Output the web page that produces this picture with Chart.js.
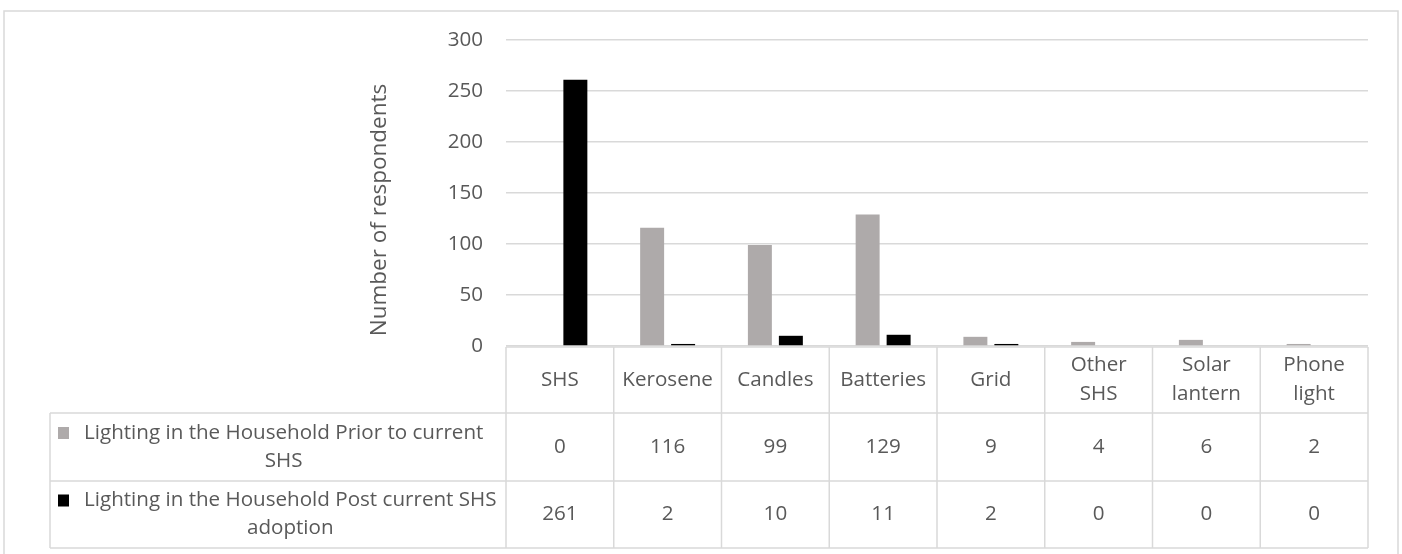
<!DOCTYPE html>
<html>
<head>
<meta charset="utf-8">
<script src="https://cdn.jsdelivr.net/npm/chart.js@4"></script>
<style>
  html, body { margin: 0; padding: 0; background: #ffffff; }
  #wrap { width: 1402px; height: 554px; position: relative; }
</style>
</head>
<body>
<div id="wrap"><canvas id="chart" width="1402" height="554"></canvas></div>
<script>
// Lighting sources (table header / category axis)
const categories = [['SHS'], ['Kerosene'], ['Candles'], ['Batteries'], ['Grid'], ['Other', 'SHS'], ['Solar', 'lantern'], ['Phone', 'light']];
// Respondent counts per lighting source
const priorValues = [0, 116, 99, 129, 9, 4, 6, 2];
const postValues = [261, 2, 10, 11, 2, 0, 0, 0];
const seriesNames = ['Lighting in the Household Prior to current SHS', 'Lighting in the Household Post current SHS adoption'];
const yTicks = [0, 50, 100, 150, 200, 250, 300];
const yTitle = 'Number of respondents';

const FONT = '"Open Sans", "Liberation Sans", sans-serif';
const TEXT = '#595959';
const LINE = '#d9d9d9';
const COLORS = ['#aeaaaa', '#000000'];
const BODY_SIZE = 20.6;
const TITLE_SIZE = 22.5;

function wrapText(ctx, text, maxW) {
  const words = text.split(' ');
  const lines = [];
  let cur = '';
  for (const w of words) {
    const t = cur ? cur + ' ' + w : w;
    if (ctx.measureText(t).width > maxW && cur) { lines.push(cur); cur = w; }
    else cur = t;
  }
  if (cur) lines.push(cur);
  return lines;
}

// Draws the outer frame, the rotated axis title and the data table under the plot
const dataTable = {
  id: 'dataTable',
  beforeDraw(chart) {
    const ctx = chart.ctx;
    ctx.save();
    ctx.fillStyle = '#ffffff';
    ctx.fillRect(0, 0, chart.width, chart.height);
    ctx.strokeStyle = LINE;
    ctx.lineWidth = 1.5;
    ctx.strokeRect(4, 11, 1394, 560);
    ctx.restore();
  },
  afterDraw(chart) {
    const ctx = chart.ctx;
    const x = chart.scales.x;
    const area = chart.chartArea;
    const n = categories.length;
    const colW = (area.right - area.left) / n;
    const top = area.bottom + 1;
    const rowH = [66, 68, 67];
    const y1 = top + rowH[0];
    const y2 = y1 + rowH[1];
    const y3 = y2 + rowH[2];
    const legendLeft = 50;

    ctx.save();
    // axis title
    ctx.font = TITLE_SIZE + 'px ' + FONT;
    ctx.fillStyle = TEXT;
    ctx.translate(380, 210);
    ctx.rotate(-Math.PI / 2);
    ctx.textAlign = 'center';
    ctx.textBaseline = 'middle';
    ctx.fillText(yTitle, 0, 0);
    ctx.restore();

    ctx.save();
    ctx.strokeStyle = LINE;
    ctx.lineWidth = 1.5;
    ctx.beginPath();
    // horizontal rules
    ctx.moveTo(area.left, top); ctx.lineTo(area.right, top);
    ctx.moveTo(legendLeft, y1); ctx.lineTo(area.right, y1);
    ctx.moveTo(legendLeft, y2); ctx.lineTo(area.right, y2);
    ctx.moveTo(legendLeft, y3); ctx.lineTo(area.right, y3);
    // vertical rules
    ctx.moveTo(legendLeft, y1); ctx.lineTo(legendLeft, y3);
    for (let i = 0; i <= n; i++) {
      const xx = area.left + i * colW;
      ctx.moveTo(xx, top); ctx.lineTo(xx, y3);
    }
    ctx.stroke();

    ctx.font = BODY_SIZE + 'px ' + FONT;
    ctx.fillStyle = TEXT;
    ctx.textAlign = 'center';
    ctx.textBaseline = 'middle';
    const lh = 29;
    // category header
    categories.forEach((lab, i) => {
      const cx = x.getPixelForValue(i);
      const cy = top + rowH[0] / 2;
      lab.forEach((l, j) => ctx.fillText(l, cx, cy + (j - (lab.length - 1) / 2) * lh));
    });
    // values
    [priorValues, postValues].forEach((vals, r) => {
      const cy = (r === 0 ? y1 + rowH[1] / 2 : y2 + rowH[2] / 2);
      vals.forEach((v, i) => ctx.fillText(String(v), x.getPixelForValue(i), cy));
    });
    // legend cells
    const rowsTop = [y1, y2];
    const rowsH = [rowH[1], rowH[2]];
    seriesNames.forEach((name, r) => {
      const textLeft = 84;
      const lines = wrapText(ctx, name, area.left - textLeft - 4);
      const blockW = Math.max(...lines.map(l => ctx.measureText(l).width));
      const cy = rowsTop[r] + rowsH[r] / 2;
      const firstY = cy - (lines.length - 1) / 2 * (lh - 1);
      ctx.fillStyle = COLORS[r];
      ctx.fillRect(58, firstY - 6, 11, 12);
      ctx.fillStyle = TEXT;
      lines.forEach((l, j) => ctx.fillText(l, textLeft + blockW / 2, firstY + j * (lh - 1)));
    });
    ctx.restore();
  }
};

new Chart(document.getElementById('chart'), {
  type: 'bar',
  data: {
    labels: categories.map(c => c.join(' ')),
    datasets: [
      { label: seriesNames[0], data: priorValues, backgroundColor: COLORS[0], categoryPercentage: 0.575, barPercentage: 0.774 },
      { label: seriesNames[1], data: postValues, backgroundColor: COLORS[1], categoryPercentage: 0.575, barPercentage: 0.774 }
    ]
  },
  options: {
    responsive: false,
    animation: false,
    layout: { padding: { left: 0, right: 34, top: 40, bottom: 208 } },
    plugins: { legend: { display: false }, tooltip: { enabled: false } },
    scales: {
      x: { display: false },
      y: {
        min: 0, max: 300,
        afterFit(scale) { scale.width = 506; },
        afterBuildTicks(scale) { scale.ticks = yTicks.map(v => ({ value: v })); },
        border: { display: false },
        grid: { color: LINE, lineWidth: 1.5, drawTicks: false },
        ticks: { color: TEXT, padding: 23, font: { family: FONT, size: BODY_SIZE } }
      }
    }
  },
  plugins: [dataTable]
});
</script>
</body>
</html>
